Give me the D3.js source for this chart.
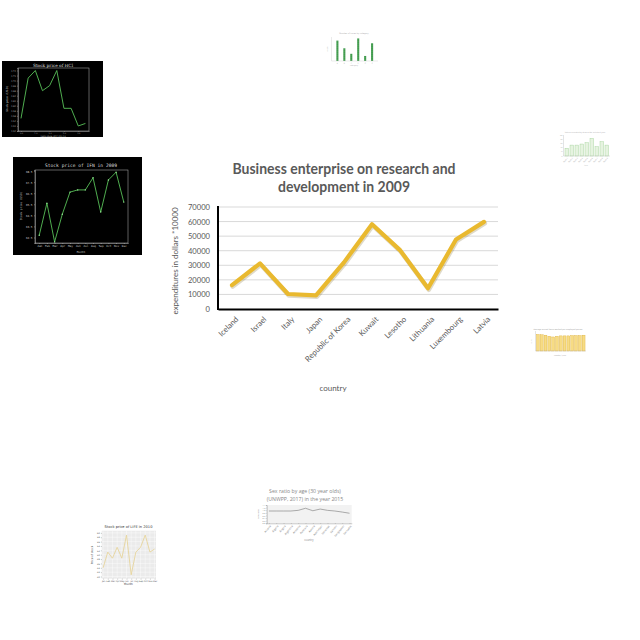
<!DOCTYPE html>
<html><head><meta charset="utf-8">
<script src="https://cdn.jsdelivr.net/npm/d3@7"></script>
<style>html,body{margin:0;padding:0;background:#fff;} svg{display:block;}</style>
</head><body>
<svg id="c" width="640" height="640"></svg>
<script>
// ---------------- data: main chart ----------------
const countries = ["Iceland","Israel","Italy","Japan","Republic of Korea","Kuwait","Lesotho","Lithuania","Luxembourg","Latvia"];
const expenditures = [16400, 31300, 10300, 9400, 32000, 58200, 40400, 14200, 47700, 59800];
const yTickValues = [0,10000,20000,30000,40000,50000,60000,70000];
const titleLines = ["Business enterprise on research and","development in 2009"];
const yAxisTitle = "expenditures in dollars *10000";
const xAxisTitle = "country";

// ---------------- data: thumbnails ----------------
const hclTitle = "Stock price of HCl";
const hclDays = [0,0.5,1,1.5,2,2.5,3,3.5,4,4.5];
const hclPrices = [4.55,4.71,4.74,4.66,4.68,4.74,4.59,4.59,4.52,4.53];

const ifnTitle = "Stock price of IFN in 2009";
const months = ["Jan","Feb","Mar","Apr","May","Jun","Jul","Aug","Sep","Oct","Nov","Dec"];
const ifnPrices = [32.7,35.6,32.1,34.6,36.6,36.8,36.8,37.9,34.8,37.7,38.4,35.7];

const lifeTitle = "Stock price of LIFE in 2010";
const lifePrices = [44.0,51.2,48.4,53.4,48.4,59.0,40.8,51.2,53.4,59.0,51.2,52.6];

const sexTitle = ["Sex ratio by age (30 year olds)","(UNWPP, 2017) in the year 2015"];
const sexCountries = ["Albania","Algeria","Angola","Argentina","Armenia","Australia","Austria","Azerbaijan","Bahamas","Bahrain","Bangladesh","Barbados"];
const sexValues = [0.94,0.94,0.94,0.94,0.99,1.15,0.96,1.09,0.99,0.94,0.86,0.77];

const greenTopCats = ["A","B","C","D","E","F"];
const greenTopValues = [85,53,30,94,21,74];

const greenRightCats = ["1","2","3","4","5","6","7","8","9"];
const greenRightValues = [37,52,52,57,63,84,44,68,52];

const yellowCats = ["1","2","3","4","5","6","7","8","9","10","11","12","13"];
const yellowValues = [92,90,88,82,78,82,84,84,84,86,86,86,88];

// ---------------- drawing ----------------
const svg = d3.select("#c");
svg.append("rect").attr("width",640).attr("height",640).attr("fill","#fff");

// ===== main chart =====
(function(){
  const M = {left:218, right:498, top:207, bottom:309};
  const x = d3.scaleBand().domain(countries).range([M.left, M.right]);
  const y = d3.scaleLinear().domain([0,70000]).range([M.bottom, M.top]);
  const g = svg.append("g");
  const txt = "#595959";

  g.selectAll("line.grid").data(yTickValues.filter(v=>v>0)).join("line")
    .attr("x1",M.left).attr("x2",M.right)
    .attr("y1",d=>y(d)).attr("y2",d=>y(d))
    .attr("stroke","#d9d9d9").attr("stroke-width",1);

  const ya = g.append("g").attr("transform",`translate(${M.left},0)`)
    .call(d3.axisLeft(y).tickValues(yTickValues).tickSize(0).tickPadding(8).tickFormat(d3.format("d")));
  ya.select(".domain").attr("stroke","#000").attr("stroke-width",2).attr("d",`M0,${M.bottom+1}V${M.top-1}`);
  ya.selectAll("text").attr("font-family","Lato").attr("font-size",7.6).attr("fill",txt);

  const xa = g.append("g").attr("transform",`translate(0,${M.bottom})`)
    .call(d3.axisBottom(x).tickSize(0).tickFormat(""));
  xa.select(".domain").attr("stroke","#000").attr("stroke-width",2);

  g.selectAll("text.xl").data(countries).join("text")
    .attr("class","xl")
    .attr("transform",d=>`translate(${x(d)+x.bandwidth()/2+3},${M.bottom+7}) rotate(-45)`)
    .attr("text-anchor","end").attr("dy","0.7em")
    .attr("font-family","Lato").attr("font-size",7.8).attr("fill",txt)
    .text(d=>d);

  const line = d3.line().x((d,i)=>x(countries[i])+x.bandwidth()/2).y(d=>y(d));
  g.append("path").datum(expenditures).attr("d",line)
    .attr("transform","translate(0.8,1.4)")
    .attr("fill","none").attr("stroke","rgba(110,85,10,0.22)").attr("stroke-width",4.6)
    .attr("stroke-linejoin","round").attr("stroke-linecap","round");
  g.append("path").datum(expenditures).attr("d",line)
    .attr("fill","none").attr("stroke","#E9B92F").attr("stroke-width",4.2)
    .attr("stroke-linejoin","round").attr("stroke-linecap","round");

  g.append("text").attr("x",344).attr("y",174).attr("text-anchor","middle")
    .attr("font-family","Lato").attr("font-weight","bold").attr("font-size",15).attr("fill",txt)
    .attr("textLength",223).attr("lengthAdjust","spacingAndGlyphs").text(titleLines[0]);
  g.append("text").attr("x",344).attr("y",192).attr("text-anchor","middle")
    .attr("font-family","Lato").attr("font-weight","bold").attr("font-size",15).attr("fill",txt)
    .attr("textLength",132).attr("lengthAdjust","spacingAndGlyphs").text(titleLines[1]);

  g.append("text").attr("transform","translate(178,261) rotate(-90)").attr("text-anchor","middle")
    .attr("font-family","Lato").attr("font-size",8).attr("fill",txt)
    .attr("textLength",107).attr("lengthAdjust","spacingAndGlyphs").text(yAxisTitle);
  g.append("text").attr("x",333).attr("y",391).attr("text-anchor","middle")
    .attr("font-family","Lato").attr("font-size",8).attr("fill",txt).text(xAxisTitle);
})();

function styleAxis(a, col, fs, font){
  a.select(".domain").attr("stroke",col).attr("stroke-width",0.4);
  a.selectAll(".tick line").attr("stroke",col).attr("stroke-width",0.4);
  a.selectAll("text").attr("fill",col).attr("font-size",fs).attr("font-family",font);
}

// ===== HCl (black) =====
(function(){
  const g = svg.append("g");
  g.append("rect").attr("x",2).attr("y",61).attr("width",101).attr("height",76).attr("fill","#000");
  const x = d3.scaleLinear().domain([-0.21,4.75]).range([18,89]);
  const y = d3.scaleLinear().domain([4.50,4.75]).range([131,68]);
  g.append("rect").attr("x",18).attr("y",68).attr("width",71).attr("height",63)
    .attr("fill","none").attr("stroke","#bbb").attr("stroke-width",0.5);
  const ay = g.append("g").attr("transform","translate(18,0)").call(d3.axisLeft(y).ticks(8).tickSize(1).tickPadding(1));
  styleAxis(ay,"#bbb",2.3,"DejaVu Serif");
  const ax = g.append("g").attr("transform","translate(0,131)").call(d3.axisBottom(x).tickValues([0,1,2,3,4]).tickSize(0.8).tickPadding(0.4));
  styleAxis(ax,"#bbb",2.0,"DejaVu Serif");
  g.append("path").datum(hclPrices)
    .attr("d",d3.line().x((d,i)=>x(hclDays[i])).y(d=>y(d)))
    .attr("fill","none").attr("stroke","#58c058").attr("stroke-width",0.9);
  g.append("text").attr("x",53).attr("y",66.5).attr("text-anchor","middle")
    .attr("font-family","DejaVu Serif").attr("font-size",4.3).attr("fill","#ddd").text(hclTitle);
  g.append("text").attr("x",53).attr("y",136.8).attr("text-anchor","middle")
    .attr("font-family","DejaVu Serif").attr("font-size",2.2).attr("fill","#ddd").text("Days since 2011-04-13");
  g.append("text").attr("transform","translate(8,99) rotate(-90)").attr("text-anchor","middle")
    .attr("font-family","DejaVu Serif").attr("font-size",2.8).attr("fill","#ddd").text("Stock price (USD)");
})();

// ===== IFN (black) =====
(function(){
  const g = svg.append("g");
  g.append("rect").attr("x",13).attr("y",157).attr("width",129).attr("height",98).attr("fill","#000");
  const x = d3.scalePoint().domain(months).range([35,128]).padding(0.55);
  const y = d3.scaleLinear().domain([32,38.6]).range([243,170]);
  g.append("rect").attr("x",35).attr("y",170).attr("width",93).attr("height",73)
    .attr("fill","none").attr("stroke","#bbb").attr("stroke-width",0.5);
  const ay = g.append("g").attr("transform","translate(35,0)").call(d3.axisLeft(y).tickValues([32.5,33.5,34.5,35.5,36.5,37.5,38.5]).tickFormat(d3.format(".1f")).tickSize(1).tickPadding(1.5));
  styleAxis(ay,"#ccc",2.8,"DejaVu Sans Mono");
  const ax = g.append("g").attr("transform","translate(0,243)").call(d3.axisBottom(x).tickSize(1).tickPadding(1));
  styleAxis(ax,"#ccc",2.8,"DejaVu Sans Mono");
  g.append("path").datum(ifnPrices)
    .attr("d",d3.line().x((d,i)=>x(months[i])).y(d=>y(d)))
    .attr("fill","none").attr("stroke","#58c058").attr("stroke-width",0.9);
  g.selectAll("circle").data(ifnPrices).join("circle")
    .attr("cx",(d,i)=>x(months[i])).attr("cy",d=>y(d)).attr("r",0.7).attr("fill","#9e9");
  g.append("text").attr("x",81).attr("y",167).attr("text-anchor","middle")
    .attr("font-family","DejaVu Sans Mono").attr("font-size",4.6).attr("fill","#ddd").text(ifnTitle);
  g.append("text").attr("x",81).attr("y",253).attr("text-anchor","middle")
    .attr("font-family","DejaVu Sans Mono").attr("font-size",2.8).attr("fill","#ccc").text("Month");
  g.append("text").attr("transform","translate(22,206) rotate(-90)").attr("text-anchor","middle")
    .attr("font-family","DejaVu Sans Mono").attr("font-size",2.8).attr("fill","#ccc").text("Stock price (USD)");
})();

// ===== LIFE (gray ggplot) =====
(function(){
  const g = svg.append("g");
  const x = d3.scalePoint().domain(months).range([101.7,156]).padding(0.3);
  const y = d3.scaleLinear().domain([39,61]).range([578.7,530.7]);
  g.append("rect").attr("x",101.7).attr("y",530.7).attr("width",54.3).attr("height",48).attr("fill","#ebebeb");
  g.selectAll("line.gy").data(y.ticks(10)).join("line").attr("x1",101.7).attr("x2",156)
    .attr("y1",d=>y(d)).attr("y2",d=>y(d)).attr("stroke","#fff").attr("stroke-width",0.4);
  g.selectAll("line.gx").data(months).join("line").attr("y1",530.7).attr("y2",578.7)
    .attr("x1",d=>x(d)).attr("x2",d=>x(d)).attr("stroke","#fff").attr("stroke-width",0.4);
  const ay = g.append("g").attr("transform","translate(101.7,0)").call(d3.axisLeft(y).ticks(10).tickSize(0.8).tickPadding(1));
  styleAxis(ay,"#555",2.2,"DejaVu Sans"); ay.select(".domain").remove();
  const ax = g.append("g").attr("transform","translate(0,578.7)").call(d3.axisBottom(x).tickSize(0.8).tickPadding(0.8));
  styleAxis(ax,"#555",2.2,"DejaVu Sans"); ax.select(".domain").remove();
  g.append("path").datum(lifePrices)
    .attr("d",d3.line().x((d,i)=>x(months[i])).y(d=>y(d)))
    .attr("fill","none").attr("stroke","#e6d59c").attr("stroke-width",0.9);
  g.append("text").attr("x",128.5).attr("y",528.3).attr("text-anchor","middle")
    .attr("font-family","DejaVu Sans").attr("font-size",3.6).attr("fill","#333").text(lifeTitle);
  g.append("text").attr("x",128.5).attr("y",585).attr("text-anchor","middle")
    .attr("font-family","DejaVu Sans").attr("font-size",2.8).attr("fill","#333").text("Month");
  g.append("text").attr("transform","translate(93,555) rotate(-90)").attr("text-anchor","middle")
    .attr("font-family","DejaVu Sans").attr("font-size",2.8).attr("fill","#333").text("Price of stock");
})();

// ===== Sex ratio =====
(function(){
  const g = svg.append("g");
  const x = d3.scalePoint().domain(sexCountries).range([266.7,351.7]).padding(0.3);
  const y = d3.scaleLinear().domain([0,1.4]).range([523.3,505]);
  g.append("rect").attr("x",266.7).attr("y",505).attr("width",85).attr("height",18.3).attr("fill","#f2f2f2");
  const ay = g.append("g").attr("transform","translate(266.7,0)").call(d3.axisLeft(y).tickValues([0,0.2,0.4,0.6,0.8,1.0,1.2,1.4]).tickFormat(d3.format(".1f")).tickSize(0.6).tickPadding(0.8));
  styleAxis(ay,"#777",2.0,"Open Sans");
  const ax = g.append("g").attr("transform","translate(0,523.3)").call(d3.axisBottom(x).tickSize(0.6).tickFormat(""));
  styleAxis(ax,"#777",2.0,"Open Sans");
  g.selectAll("text.sl").data(sexCountries).join("text")
    .attr("transform",d=>`translate(${x(d)+1},525) rotate(-50)`).attr("text-anchor","end").attr("dy","0.7em")
    .attr("font-family","Open Sans").attr("font-size",2.6).attr("fill","#777").text(d=>d);
  g.append("path").datum(sexValues)
    .attr("d",d3.line().x((d,i)=>x(sexCountries[i])).y(d=>y(d)))
    .attr("fill","none").attr("stroke","#777").attr("stroke-width",0.6);
  g.append("text").attr("x",305).attr("y",493).attr("text-anchor","middle")
    .attr("font-family","Open Sans").attr("font-size",5.2).attr("fill","#888").text(sexTitle[0]);
  g.append("text").attr("x",305).attr("y",500.5).attr("text-anchor","middle")
    .attr("font-family","Open Sans").attr("font-size",5.2).attr("fill","#888").text(sexTitle[1]);
  g.append("text").attr("x",309).attr("y",541).attr("text-anchor","middle")
    .attr("font-family","Open Sans").attr("font-size",2.6).attr("fill","#888").text("country");
  g.append("text").attr("transform","translate(259,514) rotate(-90)").attr("text-anchor","middle")
    .attr("font-family","Open Sans").attr("font-size",2.4).attr("fill","#888").text("sex ratio");
})();

// ===== green top bars =====
(function(){
  const g = svg.append("g");
  const defs = svg.append("defs");
  const p = defs.append("pattern").attr("id","dots").attr("width",2).attr("height",2).attr("patternUnits","userSpaceOnUse");
  p.append("rect").attr("width",2).attr("height",2).attr("fill","#2e8b3e");
  p.append("circle").attr("cx",1).attr("cy",1).attr("r",0.6).attr("fill","#8fdc8f");
  const x = d3.scaleBand().domain(greenTopCats).range([331.5,378]).padding(0.7);
  const y = d3.scaleLinear().domain([0,100]).range([61,37]);
  g.selectAll("rect").data(greenTopValues).join("rect")
    .attr("x",(d,i)=>x(greenTopCats[i])).attr("width",x.bandwidth())
    .attr("y",d=>y(d)).attr("height",d=>61-y(d)).attr("fill","url(#dots)");
  g.append("line").attr("x1",331.5).attr("x2",331.5).attr("y1",37).attr("y2",61).attr("stroke","#ccc").attr("stroke-width",0.4);
  g.append("line").attr("x1",331.5).attr("x2",378).attr("y1",61).attr("y2",61).attr("stroke","#ccc").attr("stroke-width",0.4);
  g.selectAll("text.l").data(greenTopCats).join("text").attr("x",(d)=>x(d)+x.bandwidth()/2).attr("y",63.5)
    .attr("text-anchor","middle").attr("font-size",1.6).attr("fill","#aaa").attr("font-family","DejaVu Sans").text(d=>d);
  g.append("text").attr("x",354).attr("y",34).attr("text-anchor","middle").attr("font-family","DejaVu Sans")
    .attr("font-size",2.0).attr("fill","#aaa").text("Number of cases by category");
  g.append("text").attr("x",354).attr("y",66).attr("text-anchor","middle").attr("font-family","DejaVu Sans")
    .attr("font-size",1.8).attr("fill","#aaa").text("category");
  g.append("text").attr("transform","translate(328,49) rotate(-90)").attr("text-anchor","middle").attr("font-family","DejaVu Sans")
    .attr("font-size",1.8).attr("fill","#aaa").text("count");
})();

// ===== green right bars =====
(function(){
  const g = svg.append("g");
  const x = d3.scaleBand().domain(greenRightCats).range([563.5,610]).padding(0.3);
  const y = d3.scaleLinear().domain([0,100]).range([156,135]);
  g.selectAll("rect").data(greenRightValues).join("rect")
    .attr("x",(d,i)=>x(greenRightCats[i])).attr("width",x.bandwidth())
    .attr("y",d=>y(d)).attr("height",d=>156-y(d))
    .attr("fill","#e6f3e0").attr("stroke","#9ccf92").attr("stroke-width",0.4);
  g.append("line").attr("x1",563.5).attr("x2",563.5).attr("y1",135).attr("y2",156).attr("stroke","#bbb").attr("stroke-width",0.4);
  g.append("line").attr("x1",563.5).attr("x2",610).attr("y1",156).attr("y2",156).attr("stroke","#bbb").attr("stroke-width",0.4);
  g.selectAll("text.l").data(greenRightCats).join("text")
    .attr("transform",d=>`translate(${x(d)+x.bandwidth()/2+0.5},157.5) rotate(-45)`)
    .attr("text-anchor","end").attr("dy","0.7em").attr("font-size",1.8).attr("fill","#aaa").attr("font-family","DejaVu Sans").text(d=>"Item "+d);
  g.append("text").attr("x",585).attr("y",133).attr("text-anchor","middle").attr("font-family","DejaVu Sans")
    .attr("font-size",1.8).attr("fill","#aaa").text("Values recorded by item in the selected year");
  g.append("text").attr("x",586).attr("y",166).attr("text-anchor","middle").attr("font-family","DejaVu Sans")
    .attr("font-size",1.6).attr("fill","#aaa").text("item");
  g.selectAll("text.yt").data([0,20,40,60,80,100]).join("text").attr("x",562.5).attr("y",d=>y(d)+0.6)
    .attr("text-anchor","end").attr("font-size",1.5).attr("fill","#aaa").attr("font-family","DejaVu Sans").text(d=>d);
})();

// ===== yellow bars =====
(function(){
  const g = svg.append("g");
  const x = d3.scaleBand().domain(yellowCats).range([535.5,586]).padding(0.25);
  const y = d3.scaleLinear().domain([0,100]).range([351,333]);
  g.selectAll("rect").data(yellowValues).join("rect")
    .attr("x",(d,i)=>x(yellowCats[i])).attr("width",x.bandwidth())
    .attr("y",d=>y(d)).attr("height",d=>351-y(d))
    .attr("fill","#f7dc84").attr("stroke","#d9aa2e").attr("stroke-width",0.35);
  g.append("line").attr("x1",535.5).attr("x2",535.5).attr("y1",331).attr("y2",351).attr("stroke","#bbb").attr("stroke-width",0.4);
  g.append("line").attr("x1",535.5).attr("x2",586).attr("y1",351).attr("y2",351).attr("stroke","#bbb").attr("stroke-width",0.4);
  g.append("text").attr("x",558).attr("y",329.5).attr("text-anchor","middle").attr("font-family","DejaVu Sans")
    .attr("font-size",1.9).attr("fill","#999").text("Average annual hours worked per employed person");
  g.append("text").attr("x",560).attr("y",355.5).attr("text-anchor","middle").attr("font-family","DejaVu Sans")
    .attr("font-size",1.7).attr("fill","#999").text("country / year");
  g.append("text").attr("transform","translate(532,342) rotate(-90)").attr("text-anchor","middle").attr("font-family","DejaVu Sans")
    .attr("font-size",1.6).attr("fill","#999").text("hours");
})();
</script>
</body></html>
